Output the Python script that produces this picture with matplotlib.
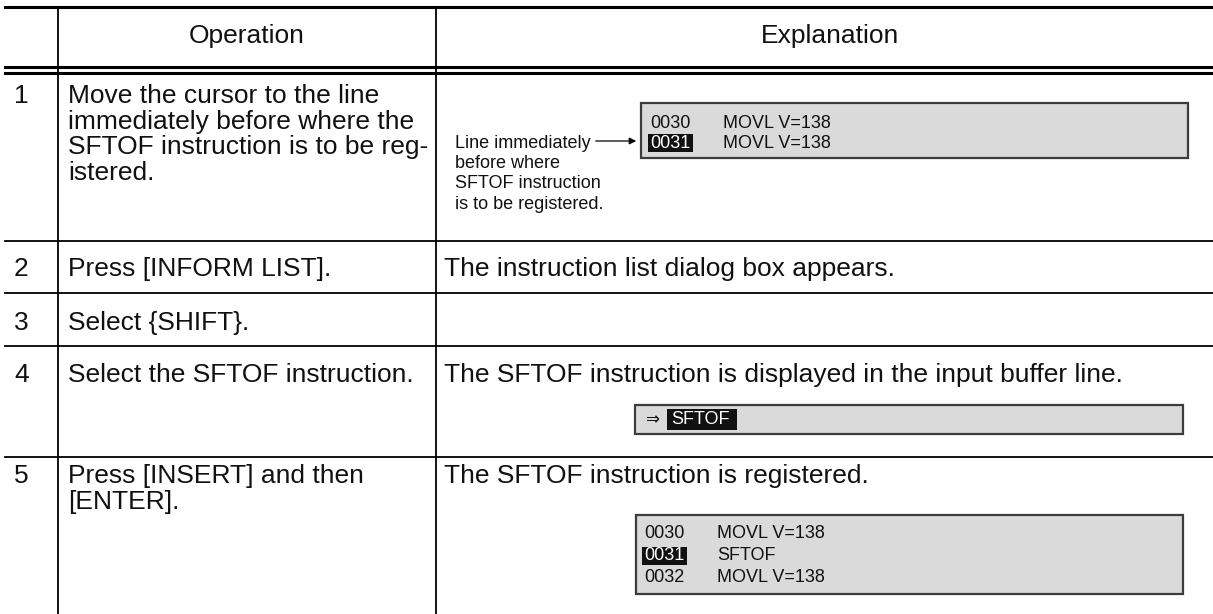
import matplotlib.pyplot as plt
from matplotlib.patches import Rectangle

plt.rcParams['font.family'] = ['Liberation Sans', 'DejaVu Sans']

# table content
headers = ["Operation", "Explanation"]
steps = ["1", "2", "3", "4", "5"]
operations = [
    "Move the cursor to the line\nimmediately before where the\nSFTOF instruction is to be reg-\nistered.",
    "Press [INFORM LIST].",
    "Select {SHIFT}.",
    "Select the SFTOF instruction.",
    "Press [INSERT] and then\n[ENTER].",
]
explanations = [
    "",
    "The instruction list dialog box appears.",
    "",
    "The SFTOF instruction is displayed in the input buffer line.",
    "The SFTOF instruction is registered.",
]
callout = "Line immediately\nbefore where\nSFTOF instruction\nis to be registered."
screen1_nums = ["0030", "0031"]
screen1_cmds = ["MOVL V=138", "MOVL V=138"]
buffer_text = "SFTOF"
screen2_nums = ["0030", "0031", "0032"]
screen2_cmds = ["MOVL V=138", "SFTOF", "MOVL V=138"]
highlight_num = "0031"

W, H = 1213, 614
fig = plt.figure(figsize=(W / 100, H / 100), dpi=100)
ax = fig.add_axes([0, 0, 1, 1])
ax.set_xlim(0, W)
ax.set_ylim(H, 0)
ax.axis('off')

BIG = 19
SMALL = 13
INK = '#111111'
col_x = [58, 436]
row_lines = [241, 293, 346, 457]
row_text_y = [96, 269, 323, 375, 476]
LINE_H = 25.5

# grid lines
ax.plot([5, W], [7, 7], color='black', lw=2.2)
ax.plot([5, W], [67, 67], color='black', lw=2.2)
ax.plot([5, W], [73, 73], color='black', lw=2.2)
for y in row_lines:
    ax.plot([5, W], [y, y], color='black', lw=1.3)
for x in col_x:
    ax.plot([x, x], [7, H], color='black', lw=1.3)

# header
ax.text(247, 36, headers[0], fontsize=BIG, ha='center', va='center', color=INK)
ax.text(830, 36, headers[1], fontsize=BIG, ha='center', va='center', color=INK)

# rows
for i, (n, op, ex) in enumerate(zip(steps, operations, explanations)):
    y0 = row_text_y[i]
    ax.text(14, y0, n, fontsize=BIG, ha='left', va='center', color=INK)
    for k, line in enumerate(op.split('\n')):
        ax.text(68, y0 + k * LINE_H, line, fontsize=BIG, ha='left', va='center', color=INK)
    if ex:
        ax.text(444, y0, ex, fontsize=BIG, ha='left', va='center', color=INK)


def screen(x0, y0, x1, y1):
    ax.add_patch(Rectangle((x0, y0), x1 - x0, y1 - y0, facecolor='#dadada',
                           edgecolor='#3c3c3c', lw=1.6))


def num_cell(x, y, s, hl):
    if hl:
        ax.add_patch(Rectangle((x - 2, y - 9), 45, 18, facecolor=INK, edgecolor='none'))
        ax.text(x, y, s, fontsize=SMALL, ha='left', va='center', color='white')
    else:
        ax.text(x, y, s, fontsize=SMALL, ha='left', va='center', color=INK)


# row 1 screen and callout
screen(641, 103, 1188, 158)
for k, (n, c) in enumerate(zip(screen1_nums, screen1_cmds)):
    yy = 123 + k * 20
    num_cell(650, yy, n, n == highlight_num)
    ax.text(723, yy, c, fontsize=SMALL, ha='left', va='center', color=INK)
for k, line in enumerate(callout.split('\n')):
    ax.text(455, 143 + k * 20.5, line, fontsize=SMALL, ha='left', va='center', color=INK)
ax.annotate('', xy=(639, 141), xytext=(593, 141),
            arrowprops=dict(arrowstyle='-|>', color='black', lw=0.9, mutation_scale=10))

# row 4 input buffer
screen(635, 405, 1183, 434)
ax.text(645, 419.5, "\u21d2", fontsize=SMALL - 1, ha='left', va='center', color=INK,
        family=['DejaVu Sans'])
ax.add_patch(Rectangle((667, 409), 70, 21, facecolor=INK, edgecolor='none'))
ax.text(671, 419.5, buffer_text, fontsize=SMALL, ha='left', va='center', color='white')

# row 5 screen
screen(636, 515, 1183, 594)
for k, (n, c) in enumerate(zip(screen2_nums, screen2_cmds)):
    yy = 533 + k * 22.5
    num_cell(644, yy, n, n == highlight_num)
    ax.text(717, yy, c, fontsize=SMALL, ha='left', va='center', color=INK)

fig.savefig('out.png', dpi=100)
